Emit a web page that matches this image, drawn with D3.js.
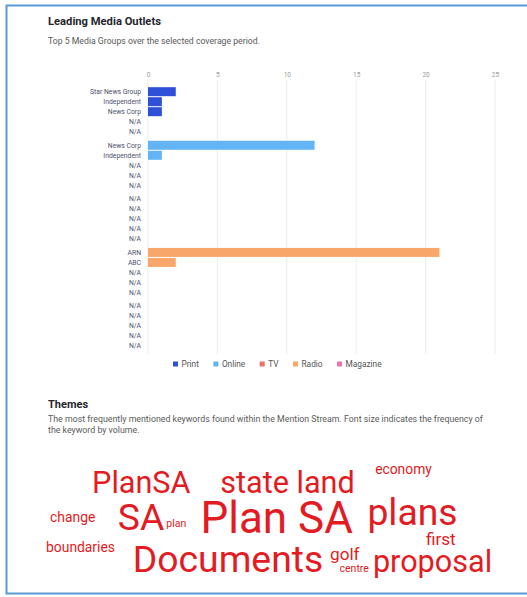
<!DOCTYPE html>
<html>
<head>
<meta charset="utf-8">
<script src="https://cdn.jsdelivr.net/npm/d3@7"></script>
<style>
  html, body { margin: 0; padding: 0; background: #fff; }
  svg { display: block; font-family: Roboto, "Noto Sans", sans-serif; }
</style>
</head>
<body>
<div id="chart"></div>
<script>
// media groups and their top 5 outlets
const mediaTypes = ['Print', 'Online', 'TV', 'Radio', 'Magazine'];
const printOutlets = ['Star News Group', 'Independent', 'News Corp', 'N/A', 'N/A'];
const printValues = [2, 1, 1, 0, 0];
const onlineOutlets = ['News Corp', 'Independent', 'N/A', 'N/A', 'N/A'];
const onlineValues = [12, 1, 0, 0, 0];
const tvOutlets = ['N/A', 'N/A', 'N/A', 'N/A', 'N/A'];
const tvValues = [0, 0, 0, 0, 0];
const radioOutlets = ['ARN', 'ABC', 'N/A', 'N/A', 'N/A'];
const radioValues = [21, 2, 0, 0, 0];
const magazineOutlets = ['N/A', 'N/A', 'N/A', 'N/A', 'N/A'];
const magazineValues = [0, 0, 0, 0, 0];
const xTicks = [0, 5, 10, 15, 20, 25];

// themes word cloud
const themeWords = ['Plan SA', 'Documents', 'plans', 'SA', 'state land', 'proposal', 'PlanSA',
  'golf', 'first', 'economy', 'change', 'boundaries', 'plan', 'centre'];
const themeCounts = [12, 10, 10, 10, 8, 8, 8, 4, 4, 3, 3, 3, 2, 2];

const width = 527;
const height = 597;
const colors = ['#2e4fd8', '#63b4f5', '#ef6f6c', '#f8a66a', '#ef72b3'];

const svg = d3.select('#chart')
  .append('svg')
  .attr('width', width)
  .attr('height', height);

// outer frame (open on the right side)
svg.append('path')
  .attr('d', `M${width + 2},5.5 H6.5 V593.5 H${width + 2}`)
  .attr('fill', 'none')
  .attr('stroke', '#5b9bd5')
  .attr('stroke-width', 2);

// headings
svg.append('text')
  .attr('x', 48).attr('y', 25)
  .attr('font-size', 11.2).attr('font-weight', 700)
  .attr('fill', '#26262e')
  .text('Leading Media Outlets');

svg.append('text')
  .attr('x', 48).attr('y', 44)
  .attr('font-size', 8.7)
  .attr('fill', '#5a5a5a')
  .text('Top 5 Media Groups over the selected coverage period.');

// build rows
const groups = [
  { type: 'Print', outlets: printOutlets, values: printValues },
  { type: 'Online', outlets: onlineOutlets, values: onlineValues },
  { type: 'TV', outlets: tvOutlets, values: tvValues },
  { type: 'Radio', outlets: radioOutlets, values: radioValues },
  { type: 'Magazine', outlets: magazineOutlets, values: magazineValues }
];
const rows = [];
groups.forEach(g => {
  g.outlets.forEach((name, i) => {
    rows.push({ type: g.type, slot: i, name: name, value: g.values[i] });
  });
});

const x = d3.scaleLinear().domain([0, 25]).range([148, 495]);
const yGroup = d3.scaleBand()
  .domain(mediaTypes)
  .range([86.7, 351])
  .paddingInner(0.067);
const yRow = d3.scaleBand()
  .domain(d3.range(5))
  .range([0, yGroup.bandwidth()])
  .paddingInner(0.1)
  .paddingOuter(0.05);
const color = d3.scaleOrdinal().domain(mediaTypes).range(colors);

// gridlines
svg.append('g')
  .selectAll('line')
  .data(xTicks)
  .enter()
  .append('line')
  .attr('x1', d => x(d)).attr('x2', d => x(d))
  .attr('y1', 80).attr('y2', 354)
  .attr('stroke', '#ececec')
  .attr('stroke-width', 1);

// top axis
const xAxis = svg.append('g')
  .attr('transform', 'translate(0,77)')
  .call(d3.axisTop(x).tickValues(xTicks).tickSize(0).tickPadding(0));
xAxis.select('.domain').remove();
xAxis.selectAll('text')
  .attr('font-size', 6.5)
  .attr('font-family', 'Roboto, sans-serif')
  .attr('fill', '#9a9a9a');

// bars
svg.append('g')
  .selectAll('rect')
  .data(rows.filter(d => d.value > 0))
  .enter()
  .append('rect')
  .attr('x', x(0))
  .attr('y', d => yGroup(d.type) + yRow(d.slot))
  .attr('width', d => x(d.value) - x(0))
  .attr('height', yRow.bandwidth())
  .attr('fill', d => color(d.type));

// outlet labels
svg.append('g')
  .selectAll('text')
  .data(rows)
  .enter()
  .append('text')
  .attr('x', 141)
  .attr('y', d => yGroup(d.type) + yRow(d.slot) + yRow.bandwidth() / 2)
  .attr('dy', '0.35em')
  .attr('text-anchor', 'end')
  .attr('font-size', 6.8)
  .attr('fill', '#4b4f6e')
  .text(d => d.name);

// legend
const legend = svg.append('g').attr('transform', 'translate(173,364)');
let lx = 0;
mediaTypes.forEach(t => {
  const item = legend.append('g').attr('transform', `translate(${lx},0)`);
  item.append('rect')
    .attr('x', 0).attr('y', -2.5)
    .attr('width', 5).attr('height', 5)
    .attr('fill', color(t));
  const label = item.append('text')
    .attr('x', 8.5).attr('dy', '0.35em')
    .attr('font-size', 8.3)
    .attr('fill', '#555')
    .text(t);
  lx += 8.5 + label.node().getComputedTextLength() + 14.5;
});

// themes section
svg.append('text')
  .attr('x', 48).attr('y', 407.5)
  .attr('font-size', 11).attr('font-weight', 700)
  .attr('fill', '#26262e')
  .text('Themes');

const desc = svg.append('text')
  .attr('font-size', 8.8)
  .attr('fill', '#5a5a5a');
desc.append('tspan').attr('x', 48).attr('y', 421.5)
  .text('The most frequently mentioned keywords found within the Mention Stream. Font size indicates the frequency of');
desc.append('tspan').attr('x', 48).attr('y', 432.5)
  .text('the keyword by volume.');

// word cloud: font size from frequency, placed into fixed layout slots
const size = d3.scaleLinear().domain([2, 12]).range([10.5, 44]);
const cloudSlots = {
  'PlanSA': [141.3, 493.3],
  'state land': [287.5, 493.3],
  'economy': [403.5, 474],
  'change': [72.7, 521.7],
  'SA': [141, 530],
  'plan': [176.3, 526.7],
  'Plan SA': [276.7, 533.3],
  'plans': [412.5, 525],
  'first': [440.8, 545],
  'boundaries': [80.5, 551.7],
  'Documents': [228, 571.7],
  'golf': [344.8, 560],
  'centre': [354.2, 571.7],
  'proposal': [432.5, 571.7]
};
const cloud = themeWords.map((w, i) => ({ word: w, count: themeCounts[i] }));

svg.append('g')
  .selectAll('text')
  .data(cloud)
  .enter()
  .append('text')
  .attr('x', d => cloudSlots[d.word][0])
  .attr('y', d => cloudSlots[d.word][1])
  .attr('text-anchor', 'middle')
  .attr('font-size', d => size(d.count))
  .attr('fill', '#e31b23')
  .text(d => d.word);
</script>
</body>
</html>
